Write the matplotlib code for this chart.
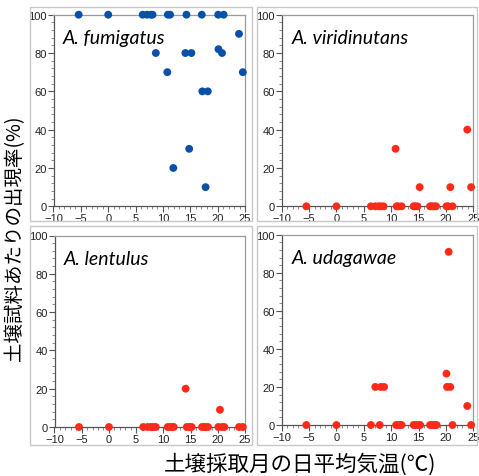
import numpy as np
import matplotlib
matplotlib.use("Agg")
from matplotlib import pyplot as plt
from matplotlib.ticker import MultipleLocator
from matplotlib.patches import Rectangle

# data: (temperature, occurrence %)
fumigatus_x = [-5.4, 0, 6.3, 7.1, 7.8, 8.1, 8.7, 10.8, 10.9, 11.3, 11.9, 14.1, 14.3, 14.8,
               15.2, 17.1, 17.2, 17.8, 18.2, 20.1, 20.15, 20.8, 21.1, 23.9, 24.6]
fumigatus_y = [100, 100, 100, 100, 100, 100, 80, 70, 100, 100, 20, 80, 100, 30,
               80, 100, 60, 10, 60, 100, 82, 80, 100, 90, 70]

viridinutans_x = [-5.5, 0, 6.3, 7.1, 7.7, 8.1, 8.6, 10.8, 11.0, 11.3, 11.9, 14.1, 14.3, 14.8,
                  15.2, 17.1, 17.4, 17.8, 18.2, 20.1, 20.4, 20.8, 21.2, 23.9, 24.6]
viridinutans_y = [0, 0, 0, 0, 0, 0, 0, 30, 0, 0, 0, 0, 0, 0,
                  10, 0, 0, 0, 0, 0, 0, 10, 0, 40, 10]

lentulus_x = [-5.5, 0, 6.3, 7.1, 7.7, 8.1, 8.6, 10.8, 11.2, 11.6, 11.9, 14.1, 14.3, 14.8,
              15.2, 17.1, 17.4, 17.8, 18.2, 20.1, 20.4, 20.8, 21.2, 23.9, 24.6]
lentulus_y = [0, 0, 0, 0, 0, 0, 0, 0, 0, 0, 0, 20, 0, 0,
              0, 0, 0, 0, 0, 0, 9, 0, 0, 0, 0]

udagawae_x = [-5.5, 0, 6.3, 7.1, 7.9, 8.1, 8.7, 10.9, 11.2, 11.6, 11.9, 14.1, 14.4, 14.9,
              15.3, 17.1, 17.5, 17.9, 18.3, 20.1, 20.2, 20.5, 20.8, 21.2, 23.9, 24.6]
udagawae_y = [0, 0, 0, 20, 0, 20, 20, 0, 0, 0, 0, 0, 0, 0,
              0, 0, 0, 0, 0, 27, 20, 91, 20, 0, 10, 0]

species = ["A. fumigatus", "A. viridinutans", "A. lentulus", "A. udagawae"]
xlabel = "土壌採取月の日平均気温(℃)"
ylabel = "土壌試料あたりの出現率(%)"

blue = "#0a50a8"
red = "#ff2a1a"

plt.rcParams['font.family'] = ['Liberation Sans', 'DejaVu Sans']

fig = plt.figure(figsize=(4.79, 4.77), dpi=100, facecolor='w')
W, H = 479.0, 477.0

# light gray panel frames (pixels: left, top, right, bottom)
frames = [(30, 8, 252, 222), (257, 8, 477, 222), (30, 227, 252, 446), (257, 227, 477, 446)]
for l, t, r, b in frames:
    fig.patches.append(Rectangle((l / W, 1 - b / H), (r - l) / W, (b - t) / H,
                                 transform=fig.transFigure, fill=False,
                                 edgecolor="#c8c8c8", linewidth=1.0))

# axes boxes in pixels: left, top(100), right(25), bottom(0)
boxes = [(53.5, 15.7, 245, 207.3), (281.7, 15.7, 473.3, 207.3),
         (54.5, 236.5, 245, 428), (281.7, 235.7, 473.3, 426)]
data = [(fumigatus_x, fumigatus_y, blue), (viridinutans_x, viridinutans_y, red),
        (lentulus_x, lentulus_y, red), (udagawae_x, udagawae_y, red)]

for (l, t, r, b), (xs, ys, c), name in zip(boxes, data, species):
    ax = fig.add_axes([l / W, 1 - b / H, (r - l) / W, (b - t) / H])
    ax.scatter(xs, ys, s=32, c=c, edgecolors='none', clip_on=False, zorder=3)
    ax.set_xlim(-10, 25)
    ax.set_ylim(0, 100)
    ax.xaxis.set_major_locator(MultipleLocator(5))
    ax.xaxis.set_minor_locator(MultipleLocator(1))
    ax.yaxis.set_major_locator(MultipleLocator(20))
    ax.yaxis.set_minor_locator(MultipleLocator(4))
    ax.tick_params(which='major', direction='out', length=4, width=0.8,
                   color="#555555", labelsize=8, pad=1, labelcolor="#222222")
    ax.tick_params(which='minor', direction='out', length=2, width=0.6, color="#777777")
    for side in ['left', 'bottom']:
        ax.spines[side].set_color("#555555")
        ax.spines[side].set_linewidth(0.9)
    for side in ['top', 'right']:
        ax.spines[side].set_color("#9a9a9a")
        ax.spines[side].set_linewidth(0.9)
    ax.text(0.05, 0.85, name, transform=ax.transAxes, fontsize=14,
            style='italic', family=['Lato', 'DejaVu Sans'], color='k')

fig.text(15 / W, 0.5, ylabel, rotation=90, ha='center', va='center', fontsize=14,
         family=['Noto Sans CJK JP', 'DejaVu Sans'])
fig.text(300 / W, 1 - 465 / H, xlabel, ha='center', va='center', fontsize=15.5,
         family=['Noto Sans CJK JP', 'DejaVu Sans'])

fig.savefig("out.png", dpi=100)
